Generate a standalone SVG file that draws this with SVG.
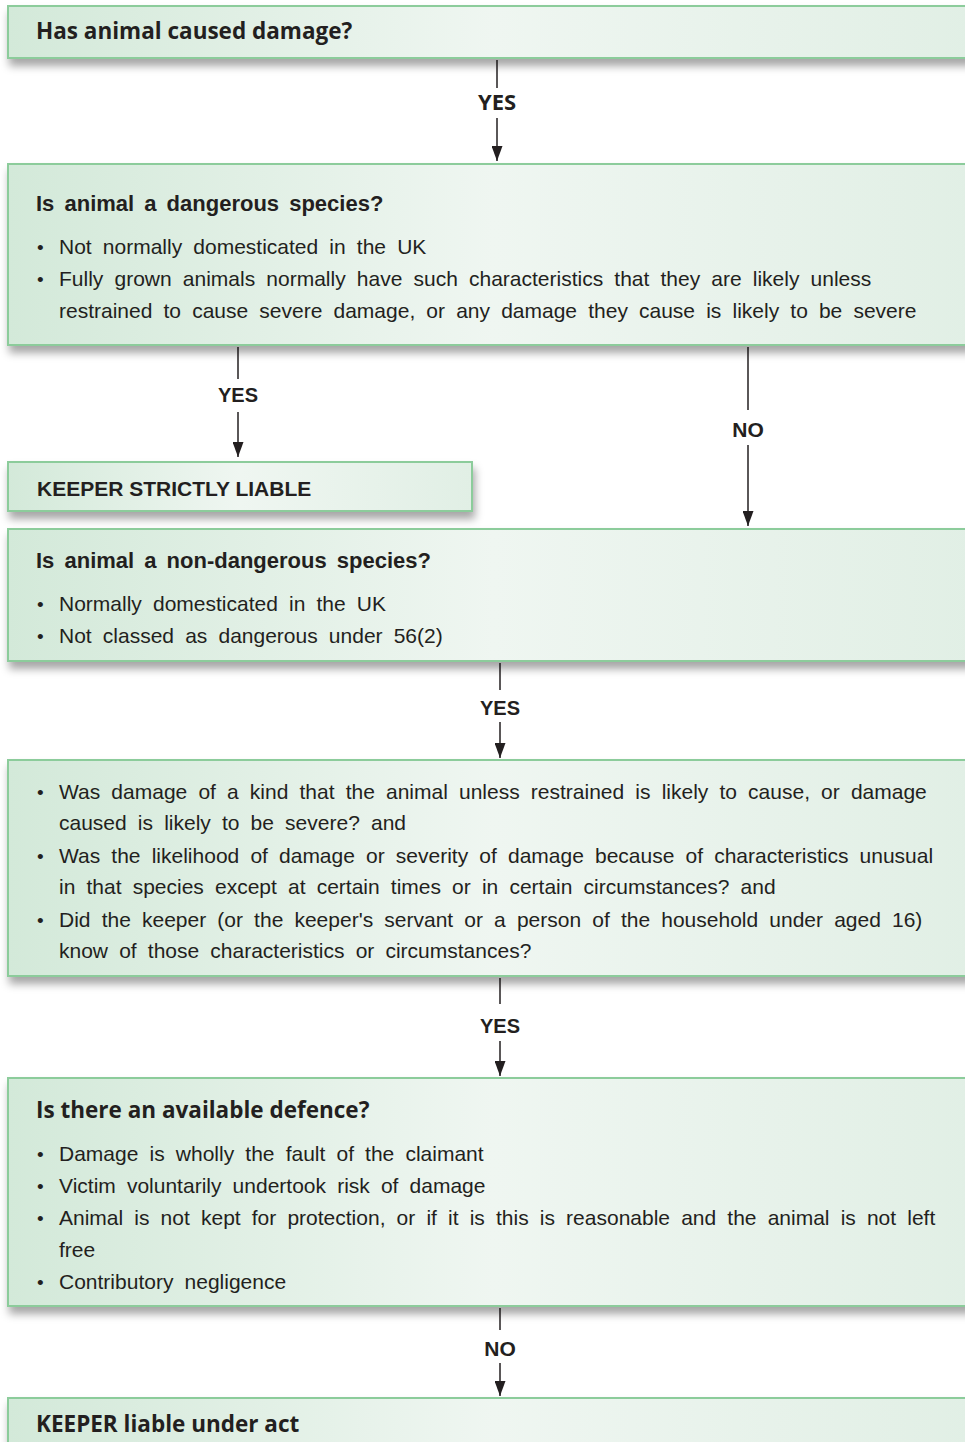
<svg xmlns="http://www.w3.org/2000/svg" width="965" height="1442" viewBox="0 0 965 1442">
  <defs>
    <linearGradient id="boxFill" x1="0" y1="0" x2="1" y2="0">
      <stop offset="0" stop-color="#d3e9d9"/>
      <stop offset="0.5" stop-color="#eff6f1"/>
      <stop offset="1" stop-color="#e1efe5"/>
    </linearGradient>
    <filter id="shadow" x="-5%" y="-20%" width="115%" height="160%">
      <feDropShadow dx="2" dy="7" stdDeviation="4" flood-color="#000" flood-opacity="0.35"/>
    </filter>
    <marker id="arrow" markerWidth="15" markerHeight="11" refX="15" refY="5.5" orient="auto" markerUnits="userSpaceOnUse" viewBox="0 0 15 11">
      <path d="M0,0 L15,5.5 L0,11 Z" fill="#231f20"/>
    </marker>
  </defs>
  <style>
    .box { fill: url(#boxFill); stroke: #8ccc9b; stroke-width: 2; filter: url(#shadow); }
    .hf { font-family: "Open Sans", "Liberation Sans", sans-serif; font-weight: 700; font-size: 22.5px; fill: #231f20; }
    .hh { font-family: "Liberation Sans", Arial, sans-serif; font-weight: 700; font-size: 22px; fill: #231f20; word-spacing: 4px; }
    .hk { font-family: "Liberation Sans", Arial, sans-serif; font-weight: 700; font-size: 21px; fill: #231f20; }
    .body { font-family: "Liberation Sans", Arial, sans-serif; font-size: 21px; fill: #231f20; word-spacing: 5.3px; }
    .dot { font-family: "Liberation Sans", Arial, sans-serif; font-size: 19px; fill: #231f20; }
    .lbl { font-family: "Liberation Sans", Arial, sans-serif; font-weight: 700; font-size: 20px; fill: #231f20; text-anchor: middle; }
    .lblf { font-family: "Open Sans", "Liberation Sans", sans-serif; font-weight: 700; font-size: 22px; fill: #231f20; text-anchor: middle; }
    .conn { stroke: #231f20; stroke-width: 1.5; fill: none; }
  </style>

  <!-- connectors -->
  <g id="connectors">
    <line class="conn" x1="497" y1="60" x2="497" y2="88"/>
    <line class="conn" x1="497" y1="118" x2="497" y2="161" marker-end="url(#arrow)"/>
    <text class="lblf" x="497" y="110">YES</text>

    <line class="conn" x1="238" y1="347" x2="238" y2="379"/>
    <line class="conn" x1="238" y1="412" x2="238" y2="457" marker-end="url(#arrow)"/>
    <text class="lbl" x="238" y="402">YES</text>

    <line class="conn" x1="748" y1="347" x2="748" y2="410"/>
    <line class="conn" x1="748" y1="445" x2="748" y2="526" marker-end="url(#arrow)"/>
    <text class="lbl" x="748" y="437" style="font-size:21px">NO</text>

    <line class="conn" x1="500" y1="663" x2="500" y2="690"/>
    <line class="conn" x1="500" y1="722" x2="500" y2="758" marker-end="url(#arrow)"/>
    <text class="lbl" x="500" y="715">YES</text>

    <line class="conn" x1="500" y1="978" x2="500" y2="1004"/>
    <line class="conn" x1="500" y1="1041" x2="500" y2="1076" marker-end="url(#arrow)"/>
    <text class="lbl" x="500" y="1033">YES</text>

    <line class="conn" x1="500" y1="1308" x2="500" y2="1330"/>
    <line class="conn" x1="500" y1="1363" x2="500" y2="1396" marker-end="url(#arrow)"/>
    <text class="lbl" x="500" y="1356" style="font-size:21px">NO</text>
  </g>

  <!-- start question -->
  <g id="n-damage">
    <rect class="box" x="8" y="6" width="970" height="52"/>
    <text class="hf" x="36" y="39">Has animal caused damage?</text>
  </g>

  <!-- dangerous species test -->
  <g id="n-dangerous">
    <rect class="box" x="8" y="164" width="970" height="181"/>
    <text class="hh" x="36" y="211">Is animal a dangerous species?</text>
    <text class="dot" x="37" y="254">•</text>
    <text class="body" x="59" y="254">Not normally domesticated in the UK</text>
    <text class="dot" x="37" y="286">•</text>
    <text class="body" x="59" y="286">Fully grown animals normally have such characteristics that they are likely unless</text>
    <text class="body" x="59" y="318">restrained to cause severe damage, or any damage they cause is likely to be severe</text>
  </g>

  <!-- strict liability outcome -->
  <g id="n-strict">
    <rect class="box" x="8" y="462" width="464" height="49"/>
    <text class="hk" x="37" y="496">KEEPER STRICTLY LIABLE</text>
  </g>

  <!-- non-dangerous species test -->
  <g id="n-nondangerous">
    <rect class="box" x="8" y="529" width="970" height="132"/>
    <text class="hh" x="36" y="568">Is animal a non-dangerous species?</text>
    <text class="dot" x="37" y="611">•</text>
    <text class="body" x="59" y="611">Normally domesticated in the UK</text>
    <text class="dot" x="37" y="643">•</text>
    <text class="body" x="59" y="643">Not classed as dangerous under 56(2)</text>
  </g>

  <!-- section 2(2) conditions -->
  <g id="n-conditions">
    <rect class="box" x="8" y="760" width="970" height="216"/>
    <text class="dot" x="37" y="799">•</text>
    <text class="body" x="59" y="799">Was damage of a kind that the animal unless restrained is likely to cause, or damage</text>
    <text class="body" x="59" y="830">caused is likely to be severe? and</text>
    <text class="dot" x="37" y="863">•</text>
    <text class="body" x="59" y="863">Was the likelihood of damage or severity of damage because of characteristics unusual</text>
    <text class="body" x="59" y="894">in that species except at certain times or in certain circumstances? and</text>
    <text class="dot" x="37" y="927">•</text>
    <text class="body" x="59" y="927">Did the keeper (or the keeper's servant or a person of the household under aged 16)</text>
    <text class="body" x="59" y="958">know of those characteristics or circumstances?</text>
  </g>

  <!-- defences -->
  <g id="n-defence">
    <rect class="box" x="8" y="1078" width="970" height="228"/>
    <text class="hf" x="36" y="1118">Is there an available defence?</text>
    <text class="dot" x="37" y="1161">•</text>
    <text class="body" x="59" y="1161">Damage is wholly the fault of the claimant</text>
    <text class="dot" x="37" y="1193">•</text>
    <text class="body" x="59" y="1193">Victim voluntarily undertook risk of damage</text>
    <text class="dot" x="37" y="1225">•</text>
    <text class="body" x="59" y="1225">Animal is not kept for protection, or if it is this is reasonable and the animal is not left</text>
    <text class="body" x="59" y="1257">free</text>
    <text class="dot" x="37" y="1289">•</text>
    <text class="body" x="59" y="1289">Contributory negligence</text>
  </g>

  <!-- final outcome -->
  <g id="n-liable">
    <rect class="box" x="8" y="1398" width="970" height="60"/>
    <text class="hf" x="36" y="1432">KEEPER liable under act</text>
  </g>
</svg>
